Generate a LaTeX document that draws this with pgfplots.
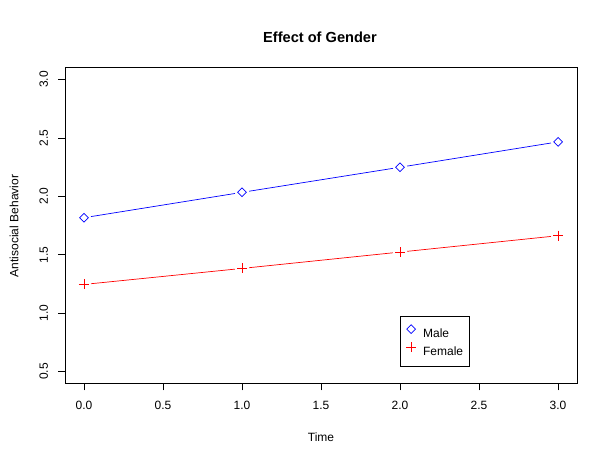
\documentclass[border=0pt]{standalone}
\usepackage{pgfplots}
\pgfplotsset{compat=1.18}
\usepackage{fontspec}
\setmainfont{Liberation Sans}
\begin{document}
\begin{tikzpicture}[x=1bp,y=1bp]
\path[fill=white] (0,0) rectangle (604,458);
\begin{axis}[
  at={(65bp,74.7bp)}, anchor=south west,
  width=512bp, height=315.5bp, scale only axis,
  xmin=-0.12, xmax=3.12, ymin=0.4, ymax=3.1,
  xtick={0,0.5,1,1.5,2,2.5,3},
  ytick={0.5,1,1.5,2,2.5,3},
  axis line style={black, line width=0.6bp},
  tick style={black, line width=0.6bp},
  tick align=outside, major tick length=7bp,
  xtick pos=bottom, ytick pos=left,
  /pgf/number format/assume math mode=true,
  /pgf/number format/.cd, fixed, fixed zerofill, precision=1, /pgfplots/.cd,
  ticklabel style={font=\fontsize{12bp}{14bp}\selectfont},
  xticklabel style={anchor=north, inner sep=0pt},
  yticklabel style={rotate=90, anchor=base, inner sep=0pt},
  xticklabel shift=11bp,
  yticklabel shift=10bp,
  legend style={at={(0.654,0.212)}, anchor=north west, draw=black,
    font=\fontsize{12bp}{14bp}\selectfont, inner xsep=6bp, inner ysep=8bp,
    row sep=2bp, column sep=7bp,
    nodes={inner sep=0pt, text height=11bp, text depth=3bp},
    line width=0.6bp},
  legend cell align=left,
  gap/.style={white, only marks, mark=*, mark size=7bp, mark options={white, fill=white, draw=white}, forget plot},
]
\addplot[blue, line width=0.7bp, no marks, forget plot]
  coordinates {(0,1.817) (1,2.034) (2,2.249) (3,2.466)};
\addplot[red, line width=0.7bp, no marks, forget plot]
  coordinates {(0,1.246) (1,1.383) (2,1.523) (3,1.663)};
% gaps around the points (R type "b")
\addplot[gap] coordinates {(0,1.817) (1,2.034) (2,2.249) (3,2.466)};
\addplot[gap] coordinates {(0,1.246) (1,1.383) (2,1.523) (3,1.663)};
\addplot[blue, only marks, mark=square, mark size=3.1bp, mark options={draw=blue, rotate=45, line width=0.7bp},
  legend image code/.code={\draw[blue, line width=0.7bp] plot[mark=square, mark size=3.1bp, mark options={rotate=45}] coordinates {(0bp,4.3bp)};}]
  coordinates {(0,1.817) (1,2.034) (2,2.249) (3,2.466)};
\addlegendentry{Male}
\addplot[red, only marks, mark=+, mark size=5bp, mark options={draw=red, line width=0.7bp},
  legend image code/.code={\draw[red, line width=0.7bp] plot[mark=+, mark size=5bp] coordinates {(0bp,4.3bp)};}]
  coordinates {(0,1.246) (1,1.383) (2,1.523) (3,1.663)};
\addlegendentry{Female}
\end{axis}
\node[font=\bfseries\fontsize{14.6bp}{17bp}\selectfont] at (320,421) {Effect of Gender};
\node[font=\fontsize{12bp}{14bp}\selectfont] at (321,21) {Time};
\node[font=\fontsize{12bp}{14bp}\selectfont, rotate=90] at (14,232) {Antisocial Behavior};
\end{tikzpicture}
\end{document}
